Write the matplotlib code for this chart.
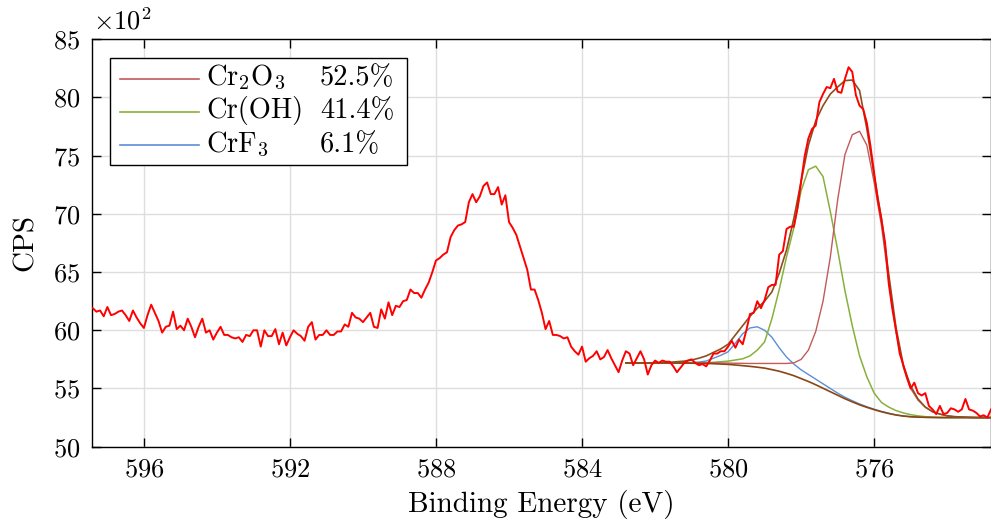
import numpy as np
import matplotlib
matplotlib.use('Agg')
import matplotlib.pyplot as plt
from matplotlib.patches import Rectangle
from matplotlib.lines import Line2D

plt.rcParams['font.family'] = 'cmr10'
plt.rcParams['mathtext.fontset'] = 'cm'
plt.rcParams['axes.formatter.use_mathtext'] = True

# raw spectrum, CPS / 100, 0.1 eV steps from 597.4 down to 572.8 eV
raw_be = np.round(np.arange(597.4, 572.75, -0.1), 1)
raw_cps = [
    # 597.4 .. 593.0
    61.9, 61.6, 61.7, 61.2, 62.0, 61.3, 61.4, 61.6, 61.7, 61.3,
    60.8, 61.7, 61.1, 60.6, 60.2, 61.3, 62.2, 61.5, 60.8, 59.8,
    60.3, 60.4, 61.6, 60.1, 60.4, 60.0, 61.0, 60.3, 59.4, 60.3,
    61.0, 59.8, 60.0, 59.2, 59.8, 60.3, 59.6, 59.6, 59.4, 59.3,
    59.4, 59.0, 59.6, 59.5, 60.0,
    # 592.9 .. 588.0
    60.0, 58.6, 60.0, 59.5, 59.5, 60.1, 58.8, 59.8, 58.7, 59.4,
    60.0, 59.7, 59.5, 59.1, 60.3, 60.7, 59.2, 59.6, 59.6, 60.0,
    59.6, 59.6, 59.9, 59.9, 60.5, 60.3, 61.5, 61.1, 61.0, 60.7,
    61.1, 61.5, 60.3, 60.2, 61.8, 61.0, 62.4, 61.3, 62.1, 62.0,
    62.5, 62.6, 63.5, 63.2, 63.2, 62.8, 63.5, 64.1, 65.0, 66.0,
    # 587.9 .. 583.0
    66.2, 66.5, 66.7, 68.0, 68.6, 69.0, 69.1, 69.3, 71.0, 71.7,
    71.0, 71.5, 72.4, 72.7, 71.7, 71.7, 72.3, 70.8, 71.6, 69.3,
    68.8, 68.2, 67.2, 66.2, 65.2, 63.5, 63.5, 62.6, 61.5, 60.1,
    60.8, 59.6, 59.6, 59.5, 59.3, 59.4, 58.6, 58.2, 57.9, 58.6,
    57.3, 57.6, 57.8, 58.2, 57.5, 57.7, 58.3, 57.6, 57.0, 56.4,
    # 582.9 .. 578.0
    57.4, 58.2, 58.0, 57.0, 57.6, 58.2, 57.5, 56.2, 57.0, 57.4,
    57.2, 57.4, 57.3, 57.3, 56.9, 56.4, 56.8, 57.2, 57.4, 57.5,
    57.2, 57.0, 57.1, 56.9, 57.4, 58.0, 58.0, 58.2, 58.2, 58.6,
    59.1, 58.5, 59.2, 58.8, 60.0, 61.4, 61.5, 62.5, 61.9, 62.6,
    63.7, 63.9, 63.9, 66.5, 66.8, 68.7, 68.9, 68.9, 70.5, 72.8,
    # 577.9 .. 572.8
    75.0, 76.5, 77.3, 77.6, 79.6, 80.3, 80.9, 80.8, 81.6, 80.5,
    80.4, 81.6, 82.6, 82.2, 80.2, 79.3, 79.0, 77.8, 75.8, 73.5,
    71.2, 69.5, 67.5, 64.0, 61.8, 60.0, 58.0, 57.0, 55.9, 55.0,
    55.5, 54.6, 54.4, 54.6, 53.5, 53.2, 52.8, 53.5, 52.8, 52.9,
    53.3, 53.2, 53.0, 53.2, 54.1, 53.2, 53.1, 52.9, 52.6, 52.7,
    52.5, 53.2,
]

# fit curves, 0.2 eV steps from 582.8 down to 572.8 eV
fit_be = np.round(np.arange(582.8, 572.75, -0.2), 1)
background = [
    57.20, 57.20, 57.20, 57.20, 57.20, 57.19, 57.19, 57.18, 57.18, 57.17,
    57.16, 57.15, 57.13, 57.10, 57.07, 57.02, 56.96, 56.90, 56.83, 56.75,
    56.62, 56.48, 56.30, 56.10, 55.85, 55.60, 55.32, 55.02, 54.72, 54.42,
    54.12, 53.85, 53.60, 53.38, 53.18, 53.00, 52.85, 52.72, 52.63, 52.57,
    52.54, 52.52, 52.51, 52.50, 52.50, 52.50, 52.50, 52.50, 52.50, 52.50,
    52.50,
]
crf3 = [
    57.20, 57.20, 57.20, 57.20, 57.20, 57.20, 57.20, 57.21, 57.22, 57.23,
    57.27, 57.36, 57.60, 57.85, 58.15, 58.90, 59.70, 60.20, 60.30, 60.00,
    59.40, 58.50, 57.70, 57.10, 56.60, 56.20, 55.80, 55.40, 55.00, 54.60,
    54.25, 53.95, 53.67, 53.43, 53.22, 53.03, 52.87, 52.73, 52.64, 52.58,
    52.54, 52.52, 52.51, 52.50, 52.50, 52.50, 52.50, 52.50, 52.50, 52.50,
    52.50,
]
cr_oh = [
    57.20, 57.20, 57.20, 57.20, 57.20, 57.20, 57.20, 57.20, 57.20, 57.20,
    57.20, 57.22, 57.25, 57.30, 57.35, 57.45, 57.55, 57.80, 58.30, 59.00,
    61.00, 63.50, 66.30, 68.80, 72.00, 73.80, 74.10, 73.20, 70.20, 66.90,
    63.40, 60.40, 57.80, 56.00, 54.60, 53.80, 53.40, 53.10, 52.90, 52.75,
    52.65, 52.58, 52.54, 52.52, 52.50, 52.50, 52.50, 52.50, 52.50, 52.50,
    52.50,
]
cr2o3 = [
    57.20, 57.20, 57.20, 57.20, 57.20, 57.20, 57.20, 57.20, 57.20, 57.20,
    57.20, 57.20, 57.20, 57.20, 57.18, 57.17, 57.16, 57.15, 57.15, 57.15,
    57.15, 57.15, 57.15, 57.20, 57.50, 58.30, 59.90, 62.50, 66.30, 71.20,
    75.10, 76.80, 77.10, 75.90, 72.70, 69.00, 64.20, 59.80, 56.80, 55.00,
    54.00, 53.40, 53.00, 52.80, 52.65, 52.58, 52.55, 52.52, 52.50, 52.50,
    52.50,
]
envelope = [
    57.20, 57.20, 57.20, 57.20, 57.20, 57.22, 57.25, 57.30, 57.35, 57.45,
    57.60, 57.80, 58.10, 58.40, 58.80, 59.60, 60.40, 61.20, 61.90, 62.50,
    63.30, 64.90, 66.90, 69.60, 72.80, 75.90, 78.00, 79.30, 80.30, 80.90,
    81.45, 81.50, 80.60, 77.30, 73.30, 69.60, 64.80, 60.20, 57.00, 55.20,
    54.10, 53.40, 53.00, 52.80, 52.65, 52.58, 52.55, 52.52, 52.50, 52.50,
    52.50,
]

names = [r'Cr$_2$O$_3$', 'Cr(OH)', r'CrF$_3$']
shares = ['52.5%', '41.4%', '6.1%']
comp_colors = ['#c45a5a', '#88b03c', '#5a8fd6']

fig = plt.figure(figsize=(9.91, 5.26), dpi=100)
ax = fig.add_axes([0.0925, 0.1508, 0.9075, 0.7745])

ax.plot(fit_be, crf3, color=comp_colors[2], lw=1.0, zorder=3)
ax.plot(fit_be, cr_oh, color=comp_colors[1], lw=1.1, zorder=3)
ax.plot(fit_be, cr2o3, color=comp_colors[0], lw=1.0, zorder=3)
ax.plot(fit_be, background, color='#8b4513', lw=1.2, zorder=4)
ax.plot(fit_be, envelope, color='#8c4f1f', lw=1.2, zorder=4)
ax.plot(raw_be, raw_cps, color='#ff0000', lw=1.4, zorder=5)

ax.set_xlim(597.43, 572.8)
ax.set_ylim(50, 85)
ax.set_xticks([596, 592, 588, 584, 580, 576])
ax.set_yticks(np.arange(50, 86, 5))
ax.grid(True, color='#dedede', lw=1.0)
ax.set_axisbelow(True)
ax.tick_params(direction='in', top=True, right=True, length=6.5, width=1,
               labelsize=19, pad=8)
for s in ax.spines.values():
    s.set_linewidth(1.0)

ax.set_xlabel('Binding Energy (eV)', fontsize=21, labelpad=6)
ax.set_ylabel('CPS', fontsize=21, labelpad=10)
ax.text(0.0015, 1.025, r'$\times10^{2}$', transform=ax.transAxes,
        fontsize=19, va='baseline', ha='left')

# legend box drawn by hand (two text columns)
def fx(px):
    return (px - 91.7) / 899.3

def fy(py):
    return (446.7 - py) / 407.4

ax.add_patch(Rectangle((fx(110), fy(165)), fx(407) - fx(110), fy(58) - fy(165),
                       transform=ax.transAxes, facecolor='white',
                       edgecolor='black', lw=1.0, zorder=10))
for i, (nm, sh, c) in enumerate(zip(names, shares, comp_colors)):
    ly = 78.7 + i * 33.3
    ax.add_line(Line2D([fx(120), fx(199)], [fy(ly), fy(ly)], color=c, lw=1.2,
                       transform=ax.transAxes, zorder=11))
    ax.text(fx(206), fy(ly + 6.5), nm, transform=ax.transAxes, fontsize=20.5,
            va='baseline', ha='left', zorder=11)
    ax.text(fx(320), fy(ly + 6.5), sh, transform=ax.transAxes, fontsize=20.5,
            va='baseline', ha='left', zorder=11)

fig.savefig('out.png', dpi=100)
